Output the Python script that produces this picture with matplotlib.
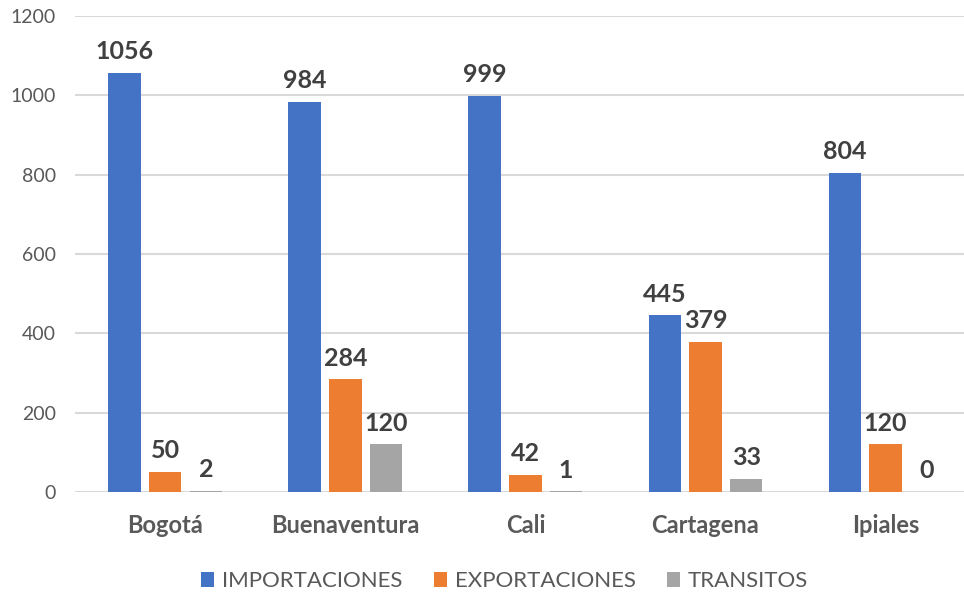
import numpy as np
import matplotlib
matplotlib.use("Agg")
import matplotlib.pyplot as plt

plt.rcParams["font.family"] = ["Lato", "DejaVu Sans"]

ciudades = ["Bogotá", "Buenaventura", "Cali", "Cartagena", "Ipiales"]
importaciones = [1056, 984, 999, 445, 804]
exportaciones = [50, 284, 42, 379, 120]
transitos = [2, 120, 1, 33, 0]
series = ["IMPORTACIONES", "EXPORTACIONES", "TRANSITOS"]
colores = ["#4472C4", "#ED7D31", "#A5A5A5"]

fig = plt.figure(figsize=(9.64, 5.94), dpi=100)
ax = fig.add_axes([0.078, 0.172, 0.934, 0.801])

x = np.arange(len(ciudades))
width = 0.18
offset = 0.226
for i, (vals, name, col) in enumerate(zip([importaciones, exportaciones, transitos], series, colores)):
    bars = ax.bar(x + (i - 1) * offset, vals, width, color=col, label=name, zorder=3)
    for b, v in zip(bars, vals):
        ax.annotate(str(v), (b.get_x() + b.get_width() / 2, v), xytext=(0, 7),
                    textcoords="offset points", ha="center", va="bottom",
                    fontsize=18, fontweight="bold", color="#404040", zorder=4)

ax.set_xlim(-0.5, len(ciudades) - 0.5)
ax.set_ylim(0, 1200)
ax.set_yticks(range(0, 1201, 200))
ax.yaxis.grid(True, color="#d9d9d9", linewidth=1.5, zorder=0)
ax.set_axisbelow(True)
for s in ax.spines.values():
    s.set_visible(False)
ax.tick_params(axis="both", length=0)
ax.tick_params(axis="y", labelsize=14, labelcolor="#595959", pad=14)
ax.set_xticks(x)
ax.set_xticklabels(ciudades, fontsize=17, fontweight="bold", color="#595959")
ax.tick_params(axis="x", pad=16)

ax.legend(loc="upper center", bbox_to_anchor=(0.477, -0.125), ncol=3, frameon=False,
          fontsize=16, labelcolor="#595959", handlelength=0.6, handleheight=0.6,
          columnspacing=1.4, handletextpad=0.35)

fig.savefig("out.png", dpi=100)
